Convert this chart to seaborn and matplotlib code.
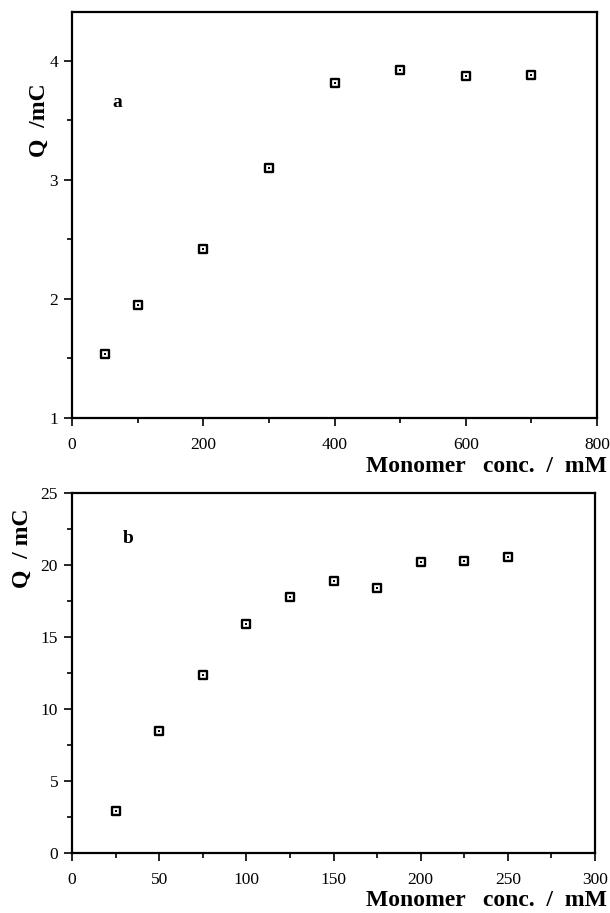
import matplotlib
matplotlib.use("Agg")
import matplotlib.pyplot as plt
from matplotlib.ticker import MultipleLocator
import pandas as pd
import seaborn as sns

# panel a
conc_a = [50, 100, 200, 300, 400, 500, 600, 700]
charge_a = [1.54, 1.95, 2.42, 3.10, 3.81, 3.92, 3.87, 3.88]

# panel b
conc_b = [25, 50, 75, 100, 125, 150, 175, 200, 225, 250]
charge_b = [2.9, 8.5, 12.37, 15.9, 17.77, 18.89, 18.42, 20.2, 20.3, 20.53]

sns.set_theme(style="white")
plt.rcParams["font.family"] = ["Liberation Serif", "DejaVu Serif"]
plt.rcParams["text.color"] = "black"
plt.rcParams["xtick.color"] = "black"
plt.rcParams["ytick.color"] = "black"

fig = plt.figure(figsize=(6.10, 9.13), dpi=100)
W, H = 610, 913
ax_a = fig.add_axes([72 / W, 1 - 418 / H, (597 - 72) / W, (418 - 12) / H])
ax_b = fig.add_axes([72 / W, 1 - 853 / H, (595 - 72) / W, (853 - 493) / H])


def draw(ax, x, y, xlim, ylim, xmaj, xmin, ymaj, ymin,
         letter, letter_pos, ylab, ylab_pos, xlab_y):
    df = pd.DataFrame({"x": x, "y": y})
    sns.scatterplot(data=df, x="x", y="y", ax=ax, marker="s", s=40,
                    facecolor="white", edgecolor="black", linewidth=1.7, zorder=3)
    sns.scatterplot(data=df, x="x", y="y", ax=ax, marker="s", s=3,
                    color="black", linewidth=0, zorder=4)
    ax.set_xlim(*xlim)
    ax.set_ylim(*ylim)
    ax.xaxis.set_major_locator(MultipleLocator(xmaj))
    ax.xaxis.set_minor_locator(MultipleLocator(xmin))
    ax.yaxis.set_major_locator(MultipleLocator(ymaj))
    ax.yaxis.set_minor_locator(MultipleLocator(ymin))
    ax.tick_params(which="both", direction="out", bottom=True, left=True,
                   top=False, right=False, width=1.2, color="black")
    ax.tick_params(which="major", length=6, labelsize=12.5)
    ax.tick_params(axis="x", which="major", pad=8)
    ax.tick_params(axis="y", which="major", pad=4)
    ax.tick_params(which="minor", length=3.5)
    for s in ax.spines.values():
        s.set_color("black")
        s.set_linewidth(1.6)
    ax.set_xlabel("")
    ax.set_ylabel("")
    ax.text(letter_pos[0], letter_pos[1], letter, transform=ax.transAxes,
            fontsize=14, fontweight="bold", ha="center", va="center")
    fig.text(607 / W, 1 - xlab_y / H, "Monomer   conc.  /  mM",
             fontsize=17, fontweight="bold", ha="right", va="center")
    fig.text(ylab_pos[0] / W, 1 - ylab_pos[1] / H, ylab, rotation=90,
             fontsize=17, fontweight="bold", ha="center", va="center")


draw(ax_a, conc_a, charge_a, (0, 800), (1, 4.41), 200, 100, 1, 0.5,
     "a", (0.087, 0.778), "Q  /mC", (39, 120), 466)
draw(ax_b, conc_b, charge_b, (0, 300), (0, 25), 50, 25, 5, 2.5,
     "b", (0.107, 0.873), "Q  / mC", (22, 548), 900)

fig.savefig("out.png", dpi=100)
